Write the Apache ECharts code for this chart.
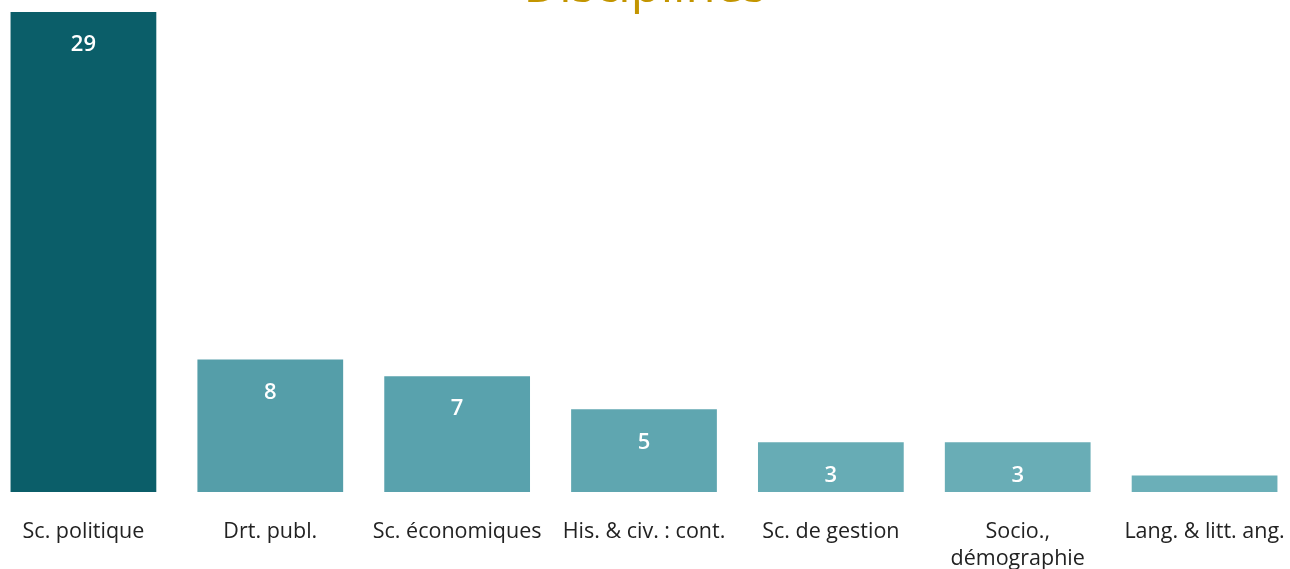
<!DOCTYPE html>
<html>
<head>
<meta charset="utf-8">
<script src="https://cdn.jsdelivr.net/npm/echarts@6/dist/echarts.min.js"></script>
<style>html,body{margin:0;padding:0;background:#fff;}#c{width:1290px;height:569px;}</style>
</head>
<body>
<div id="c"></div>
<script>
const titleText = "Disciplines";
const categories = ["Sc. politique", "Drt. publ.", "Sc. économiques", "His. & civ. : cont.", "Sc. de gestion", "Socio.,\ndémographie", "Lang. & litt. ang."];
const values = [29, 8, 7, 5, 3, 3, 1];
const barColors = ["#0b5e69", "#559ea9", "#59a2ad", "#5fa6b0", "#67acb5", "#69adb6", "#6bafb8"];

const chart = echarts.init(document.getElementById('c'));
chart.setOption({
  animation: false,
  title: {
    text: titleText, left: 'center', top: -41,
    textStyle: { color: '#c39500', fontSize: 49, fontWeight: 'normal', fontFamily: 'Open Sans' }
  },
  grid: { left: -10, right: -8, top: 12, bottom: 77, containLabel: false, outerBoundsMode: 'none' },
  xAxis: {
    type: 'category', data: categories,
    axisLine: { show: false }, axisTick: { show: false },
    axisLabel: { interval: 0, margin: 26, color: '#222', fontSize: 21.5, fontFamily: 'Open Sans', lineHeight: 27 }
  },
  yAxis: { type: 'value', min: 0, max: 29, show: false, splitLine: { show: false } },
  series: [{
    type: 'bar', barCategoryGap: '22%',
    data: values.map((v, i) => ({
      value: v,
      itemStyle: { color: barColors[i] },
      label: { show: v > 1 }
    })),
    label: {
      position: 'insideTop', distance: 22, color: '#fff', fontSize: 22, fontWeight: 600, fontFamily: 'Open Sans'
    }
  }]
});
</script>
</body>
</html>
